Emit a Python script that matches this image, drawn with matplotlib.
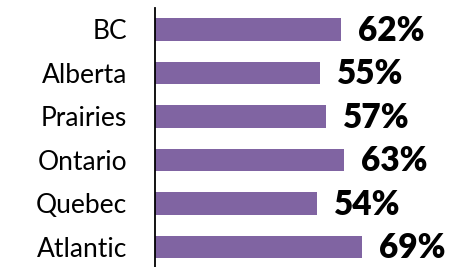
import matplotlib.pyplot as plt

regions = ["BC", "Alberta", "Prairies", "Ontario", "Quebec", "Atlantic"]
values = [62, 55, 57, 63, 54, 69]
labels = ["62%", "55%", "57%", "63%", "54%", "69%"]

BAR_COLOR = "#8064A2"

fig = plt.figure(figsize=(4.62, 2.67), dpi=100)
ax = fig.add_axes([155 / 462, 0, 1 - 155 / 462, 259 / 267])

pos = range(len(regions))
ax.barh(pos, values, height=0.52, color=BAR_COLOR)

for y, v, lab in zip(pos, values, labels):
    ax.text(v + 5.6, y + 0.03, lab, va="center", ha="left", fontsize=24,
            fontweight="heavy", family="Lato")

ax.set_xlim(0, 102.3)
ax.set_ylim(5.46, -0.494)
ax.set_yticks(list(pos))
ax.set_yticklabels(regions, fontsize=19, family="Lato")
ax.tick_params(axis="y", length=0, pad=20)
ax.set_xticks([])
for s in ["top", "right", "bottom"]:
    ax.spines[s].set_visible(False)
ax.spines["left"].set_linewidth(1.3)

fig.savefig("out.png", dpi=100)
